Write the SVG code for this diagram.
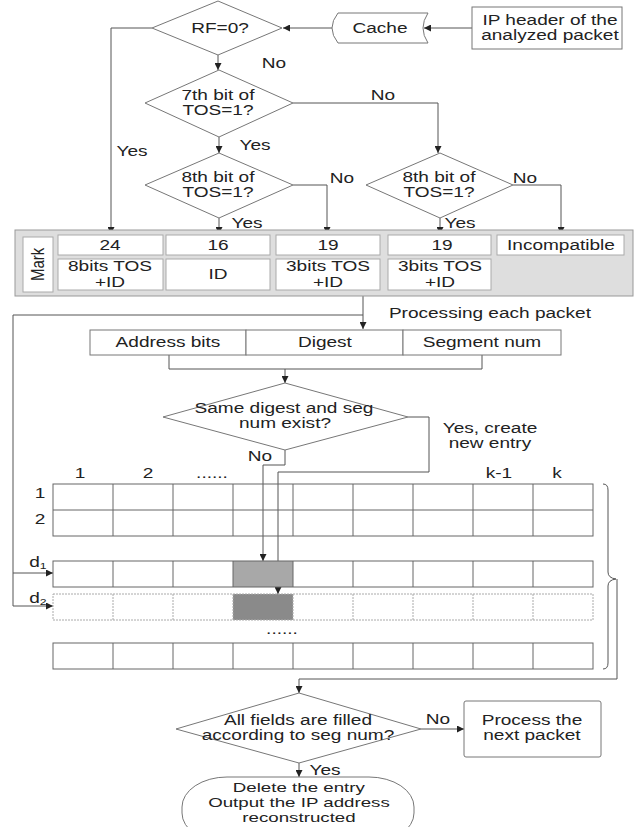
<svg xmlns="http://www.w3.org/2000/svg" width="637" height="827" viewBox="0 0 637 827">
<defs>
<style>
text { font-family: "Liberation Sans", Arial, sans-serif; font-size: 14px; fill: #222; text-anchor: middle; transform-box: fill-box; transform-origin: center; transform: scaleX(1.36); }
text.vert { font-size: 15px; transform: rotate(-90deg) scaleY(1.2); }
text.sm { font-size: 13px; transform: scaleX(1.44); }
.shape { fill: #fff; stroke: #777; stroke-width: 1; }
.cell { fill: #fff; stroke: #aaa; stroke-width: 1; }
.grid { fill: none; stroke: #666; stroke-width: 1; }
.gridl { fill: none; stroke: #aaa; stroke-width: 1; stroke-dasharray: 2 1; }
.conn { fill: none; stroke: #555; stroke-width: 1; }
</style>
<marker id="ah" viewBox="0 0 10 10" refX="10" refY="5" markerWidth="8" markerHeight="7" orient="auto" markerUnits="userSpaceOnUse">
<path d="M0,0 L10,5 L0,10 z" fill="#222"/>
</marker>
</defs>
<rect x="0" y="0" width="637" height="827" fill="#fff"/>

<g id="connectors">
<path class="conn" d="M472,28 H424" marker-end="url(#ah)"/>
<path class="conn" d="M332,28 H283" marker-end="url(#ah)"/>
<path class="conn" d="M152,28 H111 V234" marker-end="url(#ah)"/>
<path class="conn" d="M218,55 V70" marker-end="url(#ah)"/>
<path class="conn" d="M293,103 H438 V153" marker-end="url(#ah)"/>
<path class="conn" d="M219,137 V153" marker-end="url(#ah)"/>
<path class="conn" d="M293,185 H327 V234" marker-end="url(#ah)"/>
<path class="conn" d="M219,218 V234" marker-end="url(#ah)"/>
<path class="conn" d="M440,218 V234" marker-end="url(#ah)"/>
<path class="conn" d="M513,185 H561 V234" marker-end="url(#ah)"/>
<path class="conn" d="M363,296 V329" marker-end="url(#ah)"/>
<path class="conn" d="M363,315 H13 V606 H53" marker-end="url(#ah)"/>
<path class="conn" d="M13,573 H53" marker-end="url(#ah)"/>
<path class="conn" d="M169,355 V369 H482 V355"/>
<path class="conn" d="M285,369 V383" marker-end="url(#ah)"/>
<path class="conn" d="M285,450 V465 H263 V561" marker-end="url(#ah)"/>
<path class="conn" d="M408,417 H429 V472 H278 V594" marker-end="url(#ah)"/>
<path class="conn" d="M603,484 Q608,484 608,490 V572 Q608,578 616,579 Q608,580 608,586 V663 Q608,669 603,669"/>
<path class="conn" d="M617,579 V679 H299 V693" marker-end="url(#ah)"/>
<path class="conn" d="M421,729 H464" marker-end="url(#ah)"/>
<path class="conn" d="M299,763 V777" marker-end="url(#ah)"/>
</g>

<g id="labels">
<text x="132" y="156">Yes</text>
<text x="274" y="68">No</text>
<text x="383" y="100">No</text>
<text x="255" y="150">Yes</text>
<text x="342" y="183">No</text>
<text x="247" y="228">Yes</text>
<text x="525" y="183">No</text>
<text x="460" y="228">Yes</text>
<text x="490" y="318">Processing each packet</text>
<text x="260" y="461">No</text>
<text x="490" y="433">Yes, create</text>
<text x="490" y="448">new entry</text>
<text x="438" y="724">No</text>
<text x="325" y="775">Yes</text>
</g>

<g id="ip-header">
<rect class="shape" x="472" y="7" width="150" height="42" stroke="#999"/>
<text x="550" y="25">IP header of the</text>
<text x="550" y="40">analyzed packet</text>
</g>

<g id="cache">
<path class="shape" d="M338,13 H428 Q418,28 428,43 H338 Q326,28 338,13 Z"/>
<text x="380" y="33">Cache</text>
</g>

<g id="rf">
<polygon class="shape" points="218,1 282,28 218,55 152,28"/>
<text x="220" y="33">RF=0?</text>
</g>

<g id="tos7">
<polygon class="shape" points="219,70 293,103 219,137 145,103"/>
<text x="218" y="100">7th bit of</text>
<text x="218" y="115">TOS=1?</text>
</g>

<g id="tos8-left">
<polygon class="shape" points="219,153 293,185 219,218 145,185"/>
<text x="218" y="182">8th bit of</text>
<text x="218" y="197">TOS=1?</text>
</g>

<g id="tos8-right">
<polygon class="shape" points="440,153 513,185 440,218 366,185"/>
<text x="439" y="182">8th bit of</text>
<text x="439" y="197">TOS=1?</text>
</g>

<g id="mark-table">
<rect x="15" y="230" width="618" height="66" fill="#dedede" stroke="#999"/>
<rect class="cell" x="23" y="237" width="30" height="55"/>
<text class="vert" x="38" y="269">Mark</text>
<rect class="cell" x="58" y="235" width="105" height="20"/>
<rect class="cell" x="166" y="235" width="104" height="20"/>
<rect class="cell" x="276" y="235" width="104" height="20"/>
<rect class="cell" x="388" y="235" width="103" height="20"/>
<rect class="cell" x="497" y="235" width="127" height="20"/>
<rect class="cell" x="58" y="259" width="105" height="31"/>
<rect class="cell" x="166" y="259" width="104" height="31"/>
<rect class="cell" x="276" y="259" width="104" height="31"/>
<rect class="cell" x="388" y="259" width="103" height="31"/>
<text x="110" y="250">24</text>
<text x="218" y="250">16</text>
<text x="328" y="250">19</text>
<text x="442" y="250">19</text>
<text x="561" y="250">Incompatible</text>
<text x="110" y="271">8bits TOS</text>
<text x="110" y="287">+ID</text>
<text x="218" y="279">ID</text>
<text x="328" y="271">3bits TOS</text>
<text x="328" y="287">+ID</text>
<text x="440" y="271">3bits TOS</text>
<text x="440" y="287">+ID</text>
</g>

<g id="fields">
<rect class="shape" x="90" y="330" width="156" height="25"/>
<rect class="shape" x="246" y="330" width="157" height="25"/>
<rect class="shape" x="403" y="330" width="158" height="25"/>
<text x="168" y="347">Address bits</text>
<text x="325" y="347">Digest</text>
<text x="482" y="347">Segment num</text>
</g>

<g id="same-digest">
<polygon class="shape" points="285,383 408,417 285,450 163,417"/>
<text x="284" y="413">Same digest and seg</text>
<text x="285" y="428">num exist?</text>
</g>

<g id="table">
<text x="80" y="478">1</text>
<text x="148" y="478">2</text>
<text x="212" y="478">......</text>
<text x="499" y="478">k-1</text>
<text x="557" y="478">k</text>
<text x="40" y="498">1</text>
<text x="40" y="524">2</text>
<text x="38" y="567">d<tspan font-size="9" dy="2">1</tspan></text>
<text x="38" y="603">d<tspan font-size="9" dy="2">2</tspan></text>
<text x="282" y="634">......</text>
<rect x="233" y="561" width="60" height="26" fill="#a8a8a8"/>
<rect x="233" y="594" width="60" height="26" fill="#8a8a8a"/>
<rect class="grid" x="53" y="484" width="540" height="52"/>
<path class="grid" d="M53,510 H593 M113,484 V536 M173,484 V536 M233,484 V536 M293,484 V536 M353,484 V536 M413,484 V536 M473,484 V536 M533,484 V536"/>
<rect class="grid" x="53" y="561" width="540" height="26"/>
<path class="grid" d="M113,561 V587 M173,561 V587 M233,561 V587 M293,561 V587 M353,561 V587 M413,561 V587 M473,561 V587 M533,561 V587"/>
<rect class="gridl" x="53" y="594" width="540" height="26"/>
<path class="gridl" d="M113,594 V620 M173,594 V620 M233,594 V620 M293,594 V620 M353,594 V620 M413,594 V620 M473,594 V620 M533,594 V620"/>
<rect class="grid" x="53" y="643" width="540" height="26"/>
<path class="grid" d="M113,643 V669 M173,643 V669 M233,643 V669 M293,643 V669 M353,643 V669 M413,643 V669 M473,643 V669 M533,643 V669"/>
</g>

<g id="all-fields">
<polygon class="shape" points="299,693 421,729 299,763 176,729"/>
<text x="298" y="725">All fields are filled</text>
<text x="298" y="740">according to seg num?</text>
</g>

<g id="next-packet">
<rect class="shape" x="464" y="701" width="137" height="56" rx="2"/>
<text x="532" y="725">Process the</text>
<text x="532" y="740">next packet</text>
</g>

<g id="output">
<rect class="shape" x="182" y="777" width="232" height="66" rx="45" ry="30"/>
<text class="sm" x="299" y="792">Delete the entry</text>
<text class="sm" x="299" y="807">Output the IP address</text>
<text class="sm" x="299" y="822">reconstructed</text>
</g>
</svg>
